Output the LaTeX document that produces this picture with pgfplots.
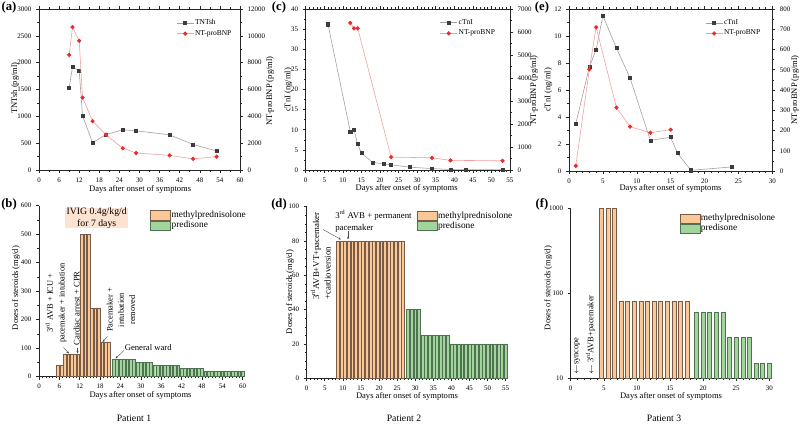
\documentclass[border=0pt]{standalone}
\usepackage{fontspec}
\setmainfont{Liberation Serif}
\usepackage{pgfplots}
\pgfplotsset{compat=1.18}
\usetikzlibrary{arrows.meta}

\definecolor{myred}{RGB}{236,42,42}
\definecolor{myredl}{RGB}{242,160,160}
\definecolor{mygray}{RGB}{60,60,60}
\definecolor{mygrayl}{RGB}{165,160,160}
\definecolor{orfill}{RGB}{250,199,150}
\definecolor{ordraw}{RGB}{120,92,72}
\definecolor{grfill}{RGB}{160,214,155}
\definecolor{grdraw}{RGB}{82,112,82}
\definecolor{ivig}{RGB}{252,226,208}

\newcommand{\fs}[2]{\fontsize{#1}{#2}\selectfont}

\pgfplotsset{
  base/.style={scale only axis, anchor=south west, tick align=outside,
    scaled ticks=false,
    major tick length=2.2pt, minor tick length=1.2pt,
    tick label style={font=\fs{5.2}{6}},
    /pgf/number format/assume math mode=true,
    /pgf/number format/set thousands separator={},
    every tick/.style={black!85, line width=0.4pt},
    axis line style={black!85, line width=0.5pt}},
  blk/.style={mygrayl, line width=0.45pt, mark=square*, mark size=1.15pt,
    mark options={fill=mygray, draw=mygray, solid}},
  rd/.style={myredl, line width=0.45pt, mark=*, mark size=1.35pt,
    mark options={fill=myred, draw=myred, solid}},
  lineleg/.style={legend cell align=left,
    legend image code/.code={\draw[mark repeat=2,mark phase=2,##1] plot coordinates {(0pt,0pt) (6.4pt,0pt) (12.8pt,0pt)};},
    legend style={draw=none, fill=none, inner sep=0pt, font=\fs{5.6}{6.5},
      row sep=1.2pt, nodes={inner sep=0.8pt}}},
  barleg/.style={legend cell align=left,
    legend image code/.code={\draw[##1] (0pt,-3.4pt) rectangle (15pt,3.4pt);},
    legend style={draw=none, fill=none, inner sep=0pt, font=\fs{7}{8},
      row sep=0pt, nodes={inner sep=0.6pt}}},
  bars/.style={base, axis x line*=bottom, axis y line*=left, clip=false},
}

\begin{document}
\begin{tikzpicture}
\path[use as bounding box] (0,0) rectangle (600pt,318pt);

% ---------------- (a)
\begin{axis}[base, at={(29.25pt,190.5pt)}, width=150.75pt, height=120.75pt,
  xmin=0, xmax=60, xtick={0,6,...,60}, minor x tick num=1,
  ymin=0, ymax=3000, ytick={0,500,...,3000}, minor y tick num=1, ytick pos=left]
\addplot[blk] coordinates {(9,1530) (10,1920) (12,1850) (13,1010) (16,510) (20,660) (25,750) (29,730) (39,655) (46,475) (53,355)};
\end{axis}
\begin{axis}[base, lineleg, at={(29.25pt,190.5pt)}, width=150.75pt, height=120.75pt,
  xmin=0, xmax=60, axis x line=none, axis y line*=right,
  ymin=0, ymax=12000, ytick={0,2000,...,12000}, minor y tick num=1,
  legend style={at={(0.682,0.944)}, anchor=north west}]
\addlegendimage{blk}\addlegendentry{TNTsh}
\addplot[rd] coordinates {(9,8580) (10,10650) (12,9630) (13,5400) (16,3640) (20,2630) (25,1620) (29,1270) (39,1090) (46,830) (53,990)};
\addlegendentry{NT-proBNP}
\end{axis}

% ---------------- (c)
\begin{axis}[base, at={(229.275pt,190.5pt)}, width=153.2pt, height=120.75pt,
  xmin=0, xmax=55, xtick={0,5,...,55}, minor x tick num=4,
  ymin=0, ymax=40, ytick={0,5,...,40}, minor y tick num=1, ytick pos=left]
\addplot[blk] coordinates {(6,36.2) (12,9.6) (13,10.0) (14,6.4) (15,4.2) (18,1.9) (21,1.5) (23,1.3) (28,0.7) (34,0.35) (39,0.12) (43,0.08) (53,0.05)};
\end{axis}
\begin{axis}[base, lineleg, at={(229.275pt,190.5pt)}, width=153.2pt, height=120.75pt,
  xmin=0, xmax=55, axis x line=none, axis y line*=right,
  ymin=0, ymax=7000, ytick={0,1000,...,7000}, minor y tick num=1,
  legend style={at={(0.656,0.944)}, anchor=north west}]
\addlegendimage{blk}\addlegendentry{cTnI}
\addplot[rd] coordinates {(12,6400) (13,6160) (14,6160) (23,560) (34,530) (39,420) (53,400)};
\addlegendentry{NT-proBNP}
\end{axis}

% ---------------- (e)
\begin{axis}[base, at={(426.75pt,189.75pt)}, width=152.5pt, height=121.5pt,
  xmin=0, xmax=30, xtick={0,5,...,30}, minor x tick num=4,
  ymin=0, ymax=12, ytick={0,2,...,12}, minor y tick num=1, ytick pos=left]
\addplot[blk] coordinates {(1,3.5) (3,7.7) (4,9.0) (5,11.5) (7,9.1) (9,6.9) (12,2.27) (15,2.5) (16,1.32) (18,0.05) (24,0.3)};
\end{axis}
\begin{axis}[base, lineleg, at={(426.75pt,189.75pt)}, width=152.5pt, height=121.5pt,
  xmin=0, xmax=30, axis x line=none, axis y line*=right,
  ymin=0, ymax=800, ytick={0,100,...,800}, minor y tick num=1,
  legend style={at={(0.669,0.944)}, anchor=north west}]
\addlegendimage{blk}\addlegendentry{cTnI}
\addplot[rd] coordinates {(1,25) (3,502) (4,710) (7,313) (9,219) (12,189) (15,204)};
\addlegendentry{NT-proBNP}
\end{axis}

% ---------------- (b)
\begin{axis}[bars, barleg, at={(29.25pt,35.475pt)}, width=154.5pt, height=128.25pt,
  xmin=0, xmax=60.7, xtick={0,6,...,60}, minor x tick num=5,
  ymin=0, ymax=600, ytick={0,100,...,600}, minor y tick num=1,
  legend style={at={(0.539,0.975)}, anchor=north west}]
\addplot[ybar, bar width=0.8, bar shift=0pt, fill=orfill, draw=ordraw, line width=0.35pt, forget plot] coordinates {
 (5.6,40) (6.6,40)
 (7.6,80) (8.6,80) (9.6,80) (10.6,80) (11.6,80)
 (12.6,500) (13.6,500) (14.6,500)
 (15.6,240) (16.6,240) (17.6,240)
 (18.6,120) (19.6,120) (20.6,120)};
\addplot[ybar, bar width=0.8, bar shift=0pt, fill=grfill, draw=grdraw, line width=0.35pt, forget plot] coordinates {
 (22,60) (23,60) (24,60) (25,60) (26,60) (27,60) (28,60)
 (29,50) (30,50) (31,50) (32,50) (33,50)
 (34,40) (35,40) (36,40) (37,40) (38,40) (39,40) (40,40) (41,40)
 (42,30) (43,30) (44,30) (45,30) (46,30) (47,30) (48,30)
 (49,20) (50,20) (51,20) (52,20) (53,20) (54,20) (55,20) (56,20) (57,20) (58,20) (59,20) (60,20)};
\addlegendimage{fill=orfill, draw=ordraw, line width=0.4pt}\addlegendentry{methylprednisolone}
\addlegendimage{fill=grfill, draw=grdraw, line width=0.4pt}\addlegendentry{predisone}
\end{axis}

% ---------------- (d)
\begin{axis}[bars, barleg, at={(230pt,34.275pt)}, width=150.45pt, height=128.7pt,
  xmin=0, xmax=55.44, xtick={0,5,...,55}, minor x tick num=4,
  ymin=0, ymax=100, ytick={0,20,...,100}, minor y tick num=3,
  legend style={at={(0.548,0.977)}, anchor=north west}]
\addplot[ybar, bar width=0.8, bar shift=0pt, fill=orfill, draw=ordraw, line width=0.35pt, forget plot] coordinates {
 (8.6,80) (9.6,80) (10.6,80) (11.6,80) (12.6,80) (13.6,80) (14.6,80) (15.6,80) (16.6,80) (17.6,80)
 (18.6,80) (19.6,80) (20.6,80) (21.6,80) (22.6,80) (23.6,80) (24.6,80) (25.6,80) (26.6,80)};
\addplot[ybar, bar width=0.8, bar shift=0pt, fill=grfill, draw=grdraw, line width=0.35pt, forget plot] coordinates {
 (28,40) (29,40) (30,40) (31,40)
 (32,25) (33,25) (34,25) (35,25) (36,25) (37,25) (38,25) (39,25)
 (40,20) (41,20) (42,20) (43,20) (44,20) (45,20) (46,20) (47,20) (48,20) (49,20) (50,20) (51,20) (52,20) (53,20) (54,20) (55,20)};
\addlegendimage{fill=orfill, draw=ordraw, line width=0.4pt}\addlegendentry{methylprednisolone}
\addlegendimage{fill=grfill, draw=grdraw, line width=0.4pt}\addlegendentry{predisone}
\end{axis}

% ---------------- (f)
\begin{axis}[bars, barleg, at={(428pt,34.3pt)}, width=151.2pt, height=127.5pt,
  xmin=0, xmax=30.45, xtick={0,5,...,30}, minor x tick num=4,
  ymode=log, log origin y=infty, ymin=10, ymax=1000, ytick={10,100,1000}, yticklabels={10,100,1000},
  minor y tick style={draw=none},
  legend style={at={(0.539,0.97)}, anchor=north west}]
\addplot[ybar, bar width=0.6, bar shift=0pt, fill=orfill, draw=ordraw, line width=0.35pt, forget plot] coordinates {
 (4.6,1000) (5.6,1000) (6.6,1000)
 (7.6,80) (8.6,80) (9.6,80) (10.6,80) (11.6,80) (12.6,80) (13.6,80) (14.6,80) (15.6,80) (16.6,80) (17.6,80)};
\addplot[ybar, bar width=0.6, bar shift=0pt, fill=grfill, draw=grdraw, line width=0.35pt, forget plot] coordinates {
 (19,60) (20,60) (21,60) (22,60) (23,60)
 (24,30) (25,30) (26,30) (27,30)
 (28,15) (29,15) (30,15)};
\addlegendimage{fill=orfill, draw=ordraw, line width=0.4pt}\addlegendentry{methylprednisolone}
\addlegendimage{fill=grfill, draw=grdraw, line width=0.4pt}\addlegendentry{predisone}
\end{axis}

% ---------------- texts (pixel coordinates, y downward)
\begin{scope}[x=0.75pt, y=-0.75pt, shift={(0pt,318pt)}]
 % panel letters
 \node[font=\bfseries\fs{9.5}{10}] at (9,7) {(a)};
 \node[font=\bfseries\fs{9.5}{10}] at (9,204) {(b)};
 \node[font=\bfseries\fs{9.5}{10}] at (279,7) {(c)};
 \node[font=\bfseries\fs{9.5}{10}] at (279,204) {(d)};
 \node[font=\bfseries\fs{9.5}{10}] at (542,7) {(e)};
 \node[font=\bfseries\fs{9.5}{10}] at (542,204) {(f)};
 % x labels
 \node[font=\fs{6.4}{7}] at (140.2,189.5) {Days after onset of symptoms};
 \node[font=\fs{6.4}{7}] at (406.7,188.5) {Days after onset of symptoms};
 \node[font=\fs{6.4}{7}] at (670.5,188.5) {Days after onset of symptoms};
 \node[font=\fs{6.4}{7}] at (140.5,395) {Days after onset of symptoms};
 \node[font=\fs{6.4}{7}] at (407,396.5) {Days after onset of symptoms};
 \node[font=\fs{6.4}{7}] at (671,396) {Days after onset of symptoms};
 % y labels
 \node[font=\fs{6.4}{7}, rotate=90] at (15,88) {TNTsh (pg/ml)};
 \node[font=\fs{6.4}{7}, rotate=90] at (270,91) {NT-proBNP (pg/ml)};
 \node[font=\fs{6.4}{7}, rotate=90] at (288.3,90) {cTnI (ng/ml)};
 \node[font=\fs{6.4}{7}, rotate=90] at (534,90) {NT-proBNP (pg/ml)};
 \node[font=\fs{6.4}{7}, rotate=90] at (548.3,90) {cTnI (ng/ml)};
 \node[font=\fs{6.4}{7}, rotate=90] at (795,90) {NT-proBNP (pg/ml)};
 \node[font=\fs{6.4}{7}, rotate=90] at (16,288) {Doses of steroids (mg/d)};
 \node[font=\fs{6.4}{7}, rotate=90] at (290,292) {Doses of steroids (mg/d)};
 \node[font=\fs{6.4}{7}, rotate=90] at (548.3,288) {Doses of steroids (mg/d)};
 % patients
 \node[font=\fs{7.3}{8}] at (134,418) {Patient 1};
 \node[font=\fs{7.3}{8}] at (404,418) {Patient 2};
 \node[font=\fs{7.3}{8}] at (664,418) {Patient 3};
 % (b) annotations
 \fill[ivig] (65,208.3) rectangle (128.3,228.3);
 \node[align=center, font=\fs{7.3}{8.6}] at (96.7,218.3) {IVIG 0.4g/kg/d\\for 7 days};
 \node[rotate=90, align=center, font=\fs{6.3}{8.8}, inner sep=0pt] at (56,303) {3\textsuperscript{rd} AVB + ICU +\\pacemaker + intubation};
 \draw[-{Stealth[length=2pt,width=1.6pt]}, line width=0.3pt, black!70] (63.5,347.5) -- (69,353.5);
 \node[rotate=90, font=\fs{6.5}{7}, inner sep=0pt] at (76.7,308.3) {Cardiac arrest + CPR};
 \draw[-{Stealth[length=2pt,width=1.6pt]}, line width=0.3pt, black!70] (77.5,348.5) -- (77.5,353.5);
 \node[rotate=90, align=center, font=\fs{6.3}{8.4}, inner sep=0pt] at (121,310) {Pacemaker +\\intubation\\removed};
 \draw[-{Stealth[length=2pt,width=1.6pt]}, line width=0.3pt, black!70] (107.5,336.5) -- (102.5,342);
 \node[anchor=west, font=\fs{6.5}{7}, inner sep=0pt] at (124.5,347.7) {General ward};
 \draw[-{Stealth[length=2pt,width=1.6pt]}, line width=0.3pt, black!70] (124,350.5) -- (115.5,358.5);
 % (d) annotations
 \node[anchor=west, align=left, font=\fs{6.6}{8.75}, inner sep=0pt] at (335,221) {3\textsuperscript{rd} AVB + permanent\\pacemaker};
 \draw[-{Stealth[length=2pt,width=1.6pt]}, line width=0.3pt, black!70] (348,231.5) -- (348,239.5);
 \node[rotate=90, anchor=north west, align=left, font=\fs{6.6}{8.75}, inner sep=0pt] at (310.5,300) {3\textsuperscript{rd}AVB+VT+pacemaker\\+cardioversion};
 \draw[-{Stealth[length=2pt,width=1.6pt]}, line width=0.3pt, black!70] (323,229.5) -- (341,239.5);
 % (f) annotations
 \node[rotate=90, anchor=west, font=\fs{6.3}{7}, inner sep=0pt] at (577.3,375) {$\leftarrow$syncope};
 \node[rotate=90, anchor=west, font=\fs{6.3}{7}, inner sep=0pt] at (590.6,375) {$\leftarrow$ 3\textsuperscript{rd}AVB+pacemaker};
\end{scope}
\end{tikzpicture}
\end{document}
